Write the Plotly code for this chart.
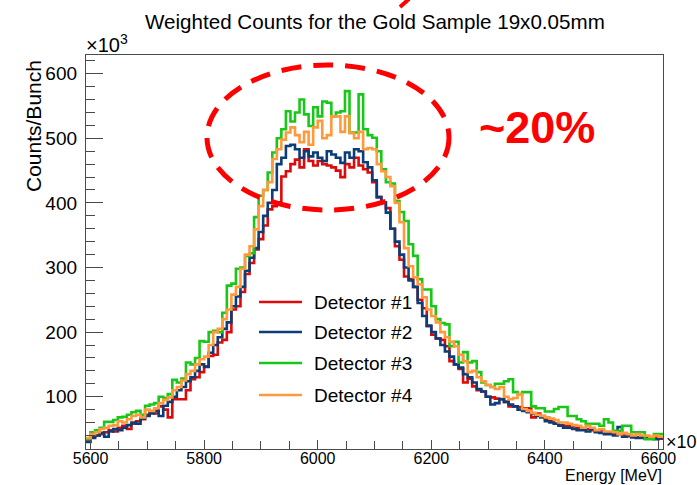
import plotly.graph_objects as go

# Histogram binning: 8 MeV bins from 5592 to 6608 MeV
BIN_LO = 5592
BIN_W = 8
N_BINS = 127

# Weighted counts per bunch (x10^3) for each detector
det1 = [33, 38, 40, 42, 45, 48, 46, 52, 55, 50,
        58, 62, 65, 72, 76, 74, 85, 80, 68, 96,
        96, 96, 110, 127, 130, 138, 147, 163, 165, 184,
        188, 200, 235, 240, 262, 290, 307, 328, 344, 365,
        390, 395, 401, 441, 449, 460, 467, 455, 483, 465,
        458, 465, 460, 458, 455, 450, 440, 460, 455, 470,
        458, 452, 447, 432, 409, 401, 392, 360, 333, 312,
        286, 282, 270, 250, 237, 209, 196, 190, 188, 178,
        155, 150, 143, 122, 128, 116, 110, 108, 100, 99,
        97, 96, 92, 85, 85, 84, 82, 82, 68, 74,
        70, 65, 62, 58, 56, 55, 55, 54, 52, 50,
        50, 48, 46, 48, 45, 44, 42, 42, 40, 39,
        38, 37, 38, 36, 35, 37, 35]

det2 = [30, 36, 40, 44, 38, 46, 50, 48, 52, 56,
        60, 58, 66, 70, 74, 78, 70, 86, 92, 100,
        110, 115, 124, 130, 140, 150, 146, 168, 180, 192,
        205, 215, 240, 255, 270, 295, 315, 330, 355, 380,
        400, 420, 460, 470, 488, 490, 483, 470, 480, 472,
        478, 470, 465, 480, 475, 470, 462, 478, 470, 483,
        480, 463, 455, 435, 409, 400, 385, 360, 340, 320,
        300, 280, 270, 245, 225, 210, 200, 190, 180, 170,
        162, 150, 145, 135, 130, 122, 112, 108, 100, 88,
        90, 96, 92, 88, 85, 80, 78, 76, 74, 70,
        68, 62, 60, 58, 55, 52, 52, 50, 48, 48,
        46, 50, 45, 44, 42, 42, 40, 53, 38, 40,
        37, 36, 36, 35, 37, 34, 36]

det3 = [34, 45, 48, 52, 61, 61, 64, 68, 69, 72,
        76, 78, 72, 86, 88, 90, 100, 98, 104, 126,
        122, 128, 153, 150, 160, 186, 185, 200, 202, 200,
        230, 272, 275, 298, 300, 318, 322, 378, 411, 420,
        447, 478, 500, 514, 542, 526, 540, 560, 537, 519,
        548, 534, 557, 555, 534, 540, 542, 573, 509, 509,
        568, 514, 505, 501, 480, 452, 432, 430, 403, 386,
        372, 336, 318, 282, 266, 266, 240, 220, 214, 212,
        178, 185, 153, 169, 153, 155, 138, 122, 118, 115,
        120, 120, 124, 127, 107, 104, 107, 107, 85, 82,
        82, 77, 77, 81, 84, 84, 70, 70, 65, 62,
        58, 58, 58, 55, 65, 60, 47, 47, 55, 55,
        45, 45, 45, 34, 34, 42, 42]

det4 = [36, 42, 45, 50, 52, 55, 56, 62, 60, 65,
        70, 72, 68, 80, 78, 82, 90, 95, 99, 110,
        115, 125, 135, 140, 150, 158, 162, 180, 200, 205,
        220, 235, 258, 270, 298, 320, 333, 359, 395, 420,
        432, 468, 483, 498, 509, 517, 505, 494, 510, 490,
        517, 527, 500, 505, 534, 534, 510, 534, 508, 500,
        510, 483, 485, 483, 460, 449, 440, 426, 400, 370,
        330, 302, 285, 274, 254, 235, 225, 215, 200, 192,
        185, 178, 165, 155, 138, 140, 130, 124, 118, 115,
        112, 115, 100, 96, 98, 104, 81, 78, 75, 72,
        70, 68, 66, 64, 60, 60, 58, 56, 55, 52,
        55, 52, 48, 50, 46, 46, 45, 42, 44, 42,
        40, 42, 40, 40, 38, 40, 38]

names = ["Detector #1", "Detector #2", "Detector #3", "Detector #4"]
series = [det1, det2, det3, det4]
colors = ["#dc0a0a", "#0c3d78", "#18c818", "#ff9a3c"]

x_ticks = [5600, 5800, 6000, 6200, 6400, 6600]
y_ticks = [100, 200, 300, 400, 500, 600]

edges = [BIN_LO + BIN_W * i for i in range(N_BINS + 1)]

W, H = 697, 485
PX0, PX1, PY0, PY1 = 86, 663, 55, 449


def px(x):
    return (x - PX0) / (PX1 - PX0)


def py(y):
    return (PY1 - y) / (PY1 - PY0)


FONT = "Liberation Sans, Arial, Helvetica, sans-serif"
AXIS_COL = "#4a4a4a"

fig = go.Figure()
for name, vals, col in zip(names, series, colors):
    fig.add_trace(go.Scatter(
        x=edges, y=vals + [vals[-1]], mode="lines", name=name,
        line=dict(color=col, width=2.6, shape="hv"),
        showlegend=False, hoverinfo="skip",
    ))

fig.update_layout(
    width=W, height=H, autosize=False,
    margin=dict(l=PX0, r=W - PX1, t=PY0, b=H - PY1, pad=0),
    paper_bgcolor="white", plot_bgcolor="white",
    font=dict(family=FONT, color="black"),
    showlegend=False,
)

fig.update_xaxes(
    range=[BIN_LO, BIN_LO + BIN_W * N_BINS],
    tickmode="array", tickvals=x_ticks, ticktext=[str(v) for v in x_ticks],
    ticks="inside", ticklen=9, tickwidth=1.2, tickcolor=AXIS_COL,
    minor=dict(ticks="inside", ticklen=8, dtick=50, tick0=5600,
               tickwidth=1.2, tickcolor=AXIS_COL, showgrid=False),
    tickfont=dict(size=16, family=FONT), ticklabelstandoff=-5,
    showline=True, linecolor=AXIS_COL, linewidth=1.3, mirror=True,
    showgrid=False, zeroline=False,
)
fig.update_yaxes(
    range=[19, 629],
    tickmode="array", tickvals=y_ticks, ticktext=[str(v) for v in y_ticks],
    ticks="inside", ticklen=17, tickwidth=1.2, tickcolor=AXIS_COL,
    minor=dict(ticks="inside", ticklen=9, dtick=20, tick0=0,
               tickwidth=1.2, tickcolor=AXIS_COL, showgrid=False),
    tickfont=dict(size=19, family=FONT), ticklabelstandoff=4,
    showline=True, linecolor=AXIS_COL, linewidth=1.3, mirror=True,
    showgrid=False, zeroline=False,
)

ann = []
# title
ann.append(dict(text="Weighted Counts for the Gold Sample 19x0.05mm",
                x=px(375), y=py(22), xanchor="center", yanchor="middle",
                font=dict(size=20.6, family=FONT)))
# exponent labels
ann.append(dict(text="×10<sup>3</sup>", x=px(84), y=py(44),
                xanchor="left", yanchor="middle", font=dict(size=20, family=FONT)))
ann.append(dict(text="×10<sup>3</sup>", x=px(664), y=py(440),
                xanchor="left", yanchor="middle", font=dict(size=18, family=FONT)))
# axis titles
ann.append(dict(text="Counts/Bunch", x=px(34), y=py(58), textangle=-90,
                xanchor="center", yanchor="top", font=dict(size=21, family=FONT)))
ann.append(dict(text="Energy [MeV]", x=px(664), y=py(475),
                xanchor="right", yanchor="middle", font=dict(size=16, family=FONT)))
# percentage callout
ann.append(dict(text="<b>~20%</b>", x=px(537), y=py(127),
                xanchor="center", yanchor="middle",
                font=dict(size=45, family=FONT, color="#ff0000")))

shapes = []
# dashed ellipse around the peak
shapes.append(dict(type="circle", xref="paper", yref="paper",
                   x0=px(207), x1=px(449), y0=py(210), y1=py(65),
                   line=dict(color="#ff0000", width=5, dash="20px,12px")))
# arrow stub at the top
shapes.append(dict(type="line", xref="paper", yref="paper",
                   x0=px(400), y0=py(7), x1=px(409), y1=py(-1),
                   line=dict(color="#ff0000", width=4)))

# legend
leg_rows = [302, 332, 363, 395]
for name, col, yy in zip(names, colors, leg_rows):
    shapes.append(dict(type="line", xref="paper", yref="paper",
                       x0=px(259), x1=px(302), y0=py(yy), y1=py(yy),
                       line=dict(color=col, width=2.6)))
    ann.append(dict(text=name, x=px(312), y=py(yy), xanchor="left",
                    yanchor="middle", font=dict(size=19, family=FONT)))

for a in ann:
    a.setdefault("xref", "paper")
    a.setdefault("yref", "paper")
    a["showarrow"] = False

fig.update_layout(annotations=ann, shapes=shapes)

fig.write_html("out.html")
